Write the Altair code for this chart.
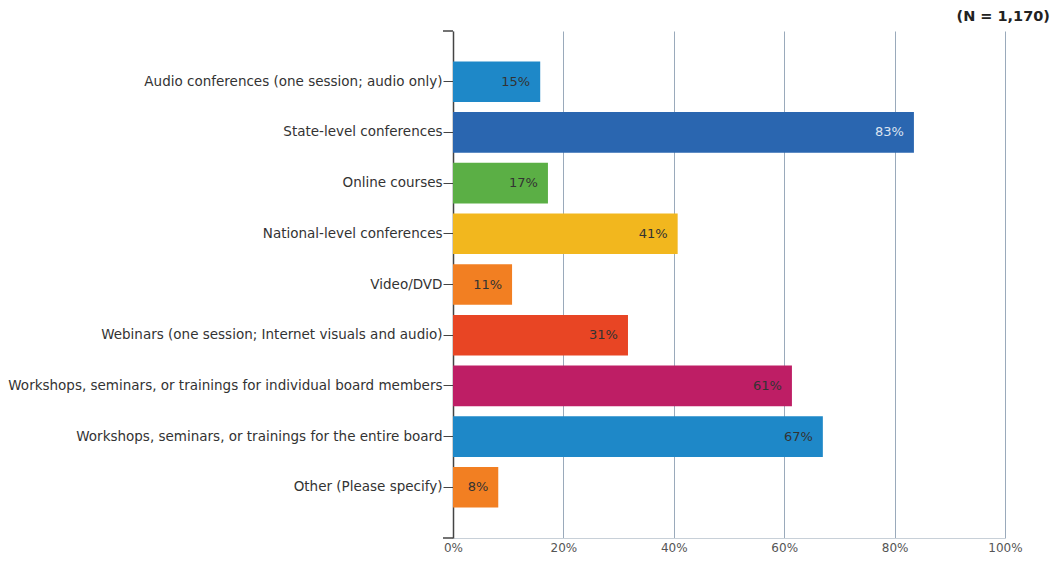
import altair as alt
import pandas as pd

categories = [
    "Audio conferences (one session; audio only)",
    "State-level conferences",
    "Online courses",
    "National-level conferences",
    "Video/DVD",
    "Webinars (one session; Internet visuals and audio)",
    "Workshops, seminars, or trainings for individual board members",
    "Workshops, seminars, or trainings for the entire board",
    "Other (Please specify)",
]
values = [15.8, 83.5, 17.2, 40.7, 10.7, 31.7, 61.4, 67.0, 8.2]
labels = ["15%", "83%", "17%", "41%", "11%", "31%", "61%", "67%", "8%"]
colors = ["#1E88C8", "#2A66B0", "#5BAF45", "#F2B71E", "#F27F22",
          "#E84524", "#BE1E65", "#1E88C8", "#F27F22"]
label_colors = ["#333333", "#DDE4F0", "#333333", "#333333", "#333333",
                "#333333", "#333333", "#333333", "#333333"]

df = pd.DataFrame({
    "cat": categories,
    "val": values,
    "lab": labels,
    "col": colors,
    "lcol": label_colors,
})

FONT = "DejaVu Sans"
W, H = 552, 507

y = alt.Y("cat:N", sort=categories, title=None,
          scale=alt.Scale(paddingInner=0.2, paddingOuter=0.6),
          axis=alt.Axis(domainColor="#444444", tickColor="#444444", tickSize=10,
                        domainWidth=1.5,
                        labelColor="#333333", labelFontSize=13.5, labelPadding=1,
                        labelFont=FONT, labelLimit=500, grid=False))
x = alt.X("val:Q", title=None,
          scale=alt.Scale(domain=[0, 100], nice=False),
          axis=alt.Axis(values=[0, 20, 40, 60, 80, 100],
                        labelExpr="datum.value + '%'",
                        grid=True, gridColor="#9AAABB", gridWidth=1,
                        domainColor="#C8D0D8", ticks=False, labelPadding=4,
                        labelFlush=False,
                        labelColor="#555555", labelFontSize=12,
                        labelFont=FONT))

bars = alt.Chart(df).mark_bar().encode(
    y=y, x=x,
    color=alt.Color("col:N", scale=None, legend=None),
)
text = alt.Chart(df).mark_text(align="right", dx=-10, fontSize=13,
                               font=FONT).encode(
    y=alt.Y("cat:N", sort=categories),
    x=alt.X("val:Q"),
    text="lab:N",
    color=alt.Color("lcol:N", scale=None, legend=None),
)

# end ticks at the top and bottom of the category axis
end_ticks = alt.Chart(pd.DataFrame({"pos": [0, H]})).mark_rule(
    color="#444444", strokeWidth=1.5
).encode(
    y=alt.Y("pos:Q", scale=None),
    x=alt.value(-10),
    x2=alt.value(0),
)

chart = (bars + text + end_ticks).properties(
    width=W, height=H,
    title=alt.TitleParams("(N = 1,170)", anchor="end", frame="group",
                          fontSize=14.5, fontWeight="bold", font=FONT,
                          color="#222222", dx=45, offset=6),
    autosize=alt.AutoSizeParams(type="none"),
    padding={"left": 445, "top": 23, "right": 46, "bottom": 16},
).configure_view(stroke=None)

chart.save("out.html", embed_options={"renderer": "svg", "actions": False})
